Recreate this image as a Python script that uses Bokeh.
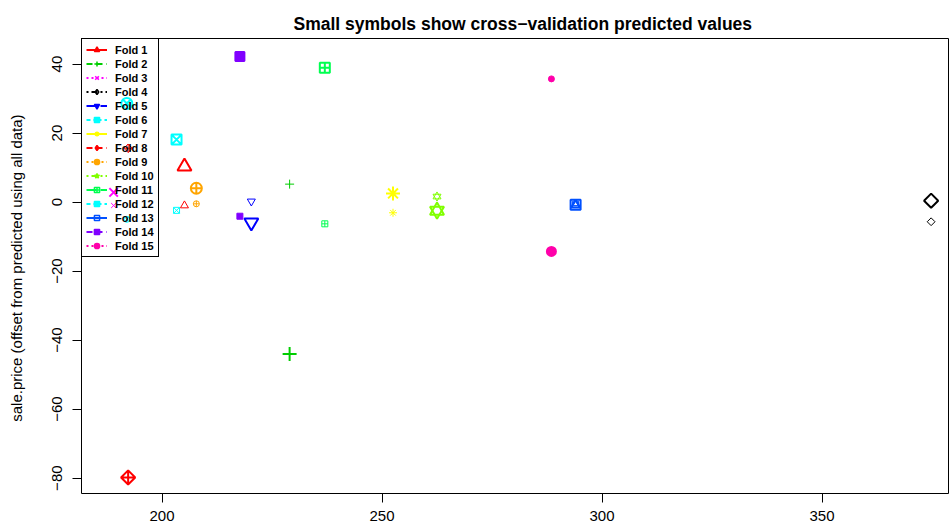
import math
import numpy as np
from bokeh.plotting import figure
from bokeh.models import Range1d, FixedTicker, Legend, LegendItem, ColumnDataSource
from bokeh.embed import file_html
from bokeh.resources import INLINE

# ---------------- data ----------------
folds = ["Fold 1", "Fold 2", "Fold 3", "Fold 4", "Fold 5", "Fold 6", "Fold 7", "Fold 8",
         "Fold 9", "Fold 10", "Fold 11", "Fold 12", "Fold 13", "Fold 14", "Fold 15"]
predicted = [205.1, 229.0, 189.0, 374.8, 220.3, 203.3, 252.5, 192.3,
             207.8, 262.5, 237.0, 192.0, 294.0, 217.7, 288.5]
actual_offset = [10.3, -44.0, 2.8, 0.4, -5.9, 18.1, 2.5, -79.8,
                 4.0, -2.5, 38.9, 28.6, -0.8, 42.2, -14.3]
cv_offset = [-1.0, 5.2, -1.0, -5.7, 0.2, -2.4, -3.1, 15.6,
             -0.5, 1.6, -6.3, -5.0, -0.6, -4.1, 35.7]
x_ticks = [200, 250, 300, 350]
y_ticks = [-80, -60, -40, -20, 0, 20, 40]

title_text = "Small symbols show cross\u2212validation predicted values"
y_label = "sale.price  (offset from predicted using all data)"

# ---------------- styles ----------------
colors = ["#FF0000", "#00CD00", "#FF00FF", "#000000", "#0000FF", "#00FFFF", "#FFFF00", "#FF0000",
          "#FFA500", "#80FF00", "#00FF50", "#00FFFF", "#0050FF", "#8000FF", "#FF00AA"]
dashes = ["solid", "6 4", "2 3", "2 3 6 3", "10 4", "4 3 8 3", "solid", "6 4",
          "2 3", "2 3 6 3", "10 4", "4 3 8 3", "solid", "6 4", "2 3"]
Q = math.pi / 4
# (marker, angle, filled, large size, small size)
shapes = [
    [("triangle", 0, False, 14, 8)],
    [("cross", 0, False, 14, 9)],
    [("x", 0, False, 12, 7)],
    [("square", Q, False, 10, 5.5)],
    [("inverted_triangle", 0, False, 14, 8)],
    [("square_x", 0, False, 10, 6)],
    [("asterisk", 0, False, 14, 8)],
    [("square_x", Q, False, 10, 6)],
    [("circle_cross", 0, False, 11, 6)],
    [("triangle", 0, False, 14, 8), ("inverted_triangle", 0, False, 14, 8)],
    [("square_cross", 0, False, 10, 6)],
    [("circle_x", 0, False, 11, 6)],
    [("square", 0, False, 10, 6), ("triangle", 0, False, 9, 5)],
    [("square", 0, True, 9, 6)],
    [("circle", 0, True, 9, 6)],
]
legend_shapes = [("triangle", True), ("cross", False), ("x", False), ("diamond", False),
                 ("inverted_triangle", True), ("square", True), ("asterisk", False),
                 ("diamond", True), ("circle", True), ("star", True), ("square_cross", False),
                 ("square", True), ("square", False), ("square", True), ("circle", True)]

FONT = "Liberation Sans"

p = figure(width=950, height=528, output_backend="svg", toolbar_location=None,
           x_range=Range1d(181.7, 378.75), y_range=Range1d(-84.45, 47.4),
           min_border_left=81, min_border_right=2, min_border_top=38, min_border_bottom=35,
           background_fill_color="white", border_fill_color="white")

p.title.text = title_text
p.title.align = "left"
p.title.offset = 212
p.title.text_font = FONT
p.title.text_font_size = "17.5px"
p.title.text_font_style = "bold"
p.title.text_color = "black"

p.outline_line_color = "black"
p.outline_line_width = 1
p.outline_line_alpha = 1
p.xgrid.visible = False
p.ygrid.visible = False

for ax in (p.xaxis[0], p.yaxis[0]):
    ax.axis_line_color = None
    ax.major_tick_in = 0
    ax.major_tick_out = 9
    ax.major_tick_line_color = "black"
    ax.minor_tick_line_color = None
    ax.major_label_text_font = FONT
    ax.major_label_text_font_size = "15px"
    ax.major_label_text_color = "black"

p.xaxis.ticker = FixedTicker(ticks=x_ticks)
p.xaxis.major_label_standoff = 8
p.yaxis.ticker = FixedTicker(ticks=y_ticks)
p.yaxis.major_label_orientation = "vertical"
p.yaxis.major_label_standoff = 10
p.yaxis.major_label_overrides = {t: str(t).replace("-", "\u2212") for t in y_ticks}
p.yaxis.axis_label = y_label
p.yaxis.axis_label_text_font = FONT
p.yaxis.axis_label_text_font_size = "15px"
p.yaxis.axis_label_text_font_style = "normal"
p.yaxis.axis_label_text_color = "black"
p.yaxis.axis_label_standoff = 25

for i in range(len(folds)):
    src = ColumnDataSource(dict(x=[predicted[i]], yb=[actual_offset[i]], ys=[cv_offset[i]]))
    c = colors[i]
    for (mk, ang, filled, big, small) in shapes[i]:
        fc = c if filled else None
        p.scatter(x="x", y="yb", source=src, marker=mk, angle=ang, size=big,
                  line_color=c, fill_color=fc, line_width=2)
        p.scatter(x="x", y="ys", source=src, marker=mk, angle=ang, size=small,
                  line_color=c, fill_color=fc, line_width=1)

# legend-only renderers (NaN data: nothing drawn in the plot area)
items = []
for i in range(len(folds)):
    c = colors[i]
    nan_src = ColumnDataSource(dict(x=np.array([np.nan]), y=np.array([np.nan])))
    lr = p.line(x="x", y="y", source=nan_src, line_color=c, line_width=2, line_dash=dashes[i])
    mk, filled = legend_shapes[i]
    sr = p.scatter(x="x", y="y", source=nan_src, marker=mk, line_color=c,
                   fill_color=c if filled else None, line_width=1.5)
    items.append(LegendItem(label=folds[i], renderers=[lr, sr]))

legend = Legend(items=items, location="top_left", margin=0, padding=4, spacing=1,
                glyph_height=13, glyph_width=21, label_height=13, label_standoff=8,
                label_text_font=FONT, label_text_font_size="11px", label_text_font_style="bold",
                label_text_color="black", border_line_color="black", border_line_width=1,
                border_line_alpha=1, background_fill_alpha=0)
p.add_layout(legend)

open("out.html", "w").write(file_html(p, INLINE))
